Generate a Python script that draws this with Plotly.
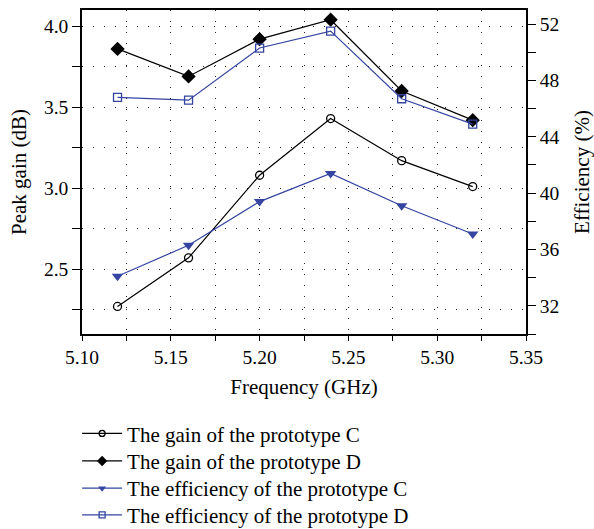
import plotly.graph_objects as go

# Measured data
freq_ghz = [5.12, 5.16, 5.20, 5.24, 5.28, 5.32]
gain_c_db = [2.27, 2.57, 3.08, 3.43, 3.17, 3.01]
gain_d_db = [3.86, 3.69, 3.92, 4.04, 3.60, 3.42]
eff_c_pct = [34.1, 36.3, 39.4, 41.4, 39.1, 37.1]
eff_d_pct = [46.8, 46.6, 50.3, 51.5, 46.7, 44.9]

series_names = [
    "The gain of the prototype C",
    "The gain of the prototype D",
    "The efficiency of the prototype C",
    "The efficiency of the prototype D",
]

BLACK = "#000000"
BLUE = "#3444a0"
FONT = "Liberation Serif"

# (values, colour, symbol, plot size, legend size, axis)
series = [
    (gain_c_db, BLACK, "circle-open", 8, 6, "y"),
    (gain_d_db, BLACK, "diamond", 11, 8, "y"),
    (eff_c_pct, BLUE, "triangle-down", 10, 7, "y2"),
    (eff_d_pct, BLUE, "square-open", 8, 6, "y2"),
]

fig = go.Figure()

for name, (vals, color, symbol, size, _, axis) in zip(series_names, series):
    open_marker = symbol.endswith("-open")
    fig.add_trace(go.Scatter(
        x=freq_ghz, y=vals, name=name, mode="lines+markers",
        line=dict(color=color, width=1.2),
        marker=dict(symbol=symbol, size=size, color=color,
                    line=dict(width=1.3 if open_marker else 0, color=color)),
        yaxis=axis, showlegend=False,
    ))

# Legend entries, one legend per row so the row pitch can be set exactly
legend_names = ["legend", "legend2", "legend3", "legend4"]
for i, (name, (vals, color, symbol, _, lsize, axis)) in enumerate(zip(series_names, series)):
    open_marker = symbol.endswith("-open")
    fig.add_trace(go.Scatter(
        x=[None], y=[None], name=name, mode="lines+markers",
        line=dict(color=color, width=1.2),
        marker=dict(symbol=symbol, size=lsize, color=color,
                    line=dict(width=1.3 if open_marker else 0, color=color)),
        yaxis=axis, showlegend=True, legend=legend_names[i],
    ))

DOTS = "1px,10px"
GRIDC = "#222222"
H = 529
row_centers = [433.8, 461.3, 488.5, 515.3]

legend_common = dict(
    x=-0.011, xanchor="left", yanchor="middle", yref="container",
    font=dict(family=FONT, size=21, color="black"),
    itemwidth=40, bgcolor="rgba(0,0,0,0)", borderwidth=0,
)
legend_layout = {}
for lname, yc in zip(legend_names, row_centers):
    legend_layout[lname] = dict(legend_common, y=1 - yc / H)

fig.update_layout(
    width=594, height=H,
    margin=dict(l=82, r=68, t=10, b=195),
    paper_bgcolor="white", plot_bgcolor="white",
    font=dict(family=FONT, size=19, color="black"),
    showlegend=True,
    **legend_layout,
    xaxis=dict(
        range=[5.10, 5.35], dtick=0.05, tick0=5.0, tickformat=".2f",
        ticks="outside", ticklen=5, tickwidth=1.2, tickcolor="black",
        showline=True, linecolor="black", linewidth=1.5, mirror=True,
        showgrid=True, gridcolor=GRIDC, gridwidth=1, griddash=DOTS,
        zeroline=False, automargin=False,
        minor=dict(dtick=0.025, tick0=5.0, ticks="outside", ticklen=5, tickwidth=1.2,
                   tickcolor="black", showgrid=True, gridcolor=GRIDC, gridwidth=1, griddash=DOTS),
        title=dict(text="Frequency (GHz)", font=dict(size=21), standoff=12),
        tickfont=dict(size=19.5),
    ),
    yaxis=dict(
        range=[2.1, 4.1], dtick=0.5, tick0=0, tickformat=".1f",
        ticks="outside", ticklen=8, tickwidth=1.2, tickcolor="black",
        showline=True, linecolor="black", linewidth=1.5,
        showgrid=True, gridcolor=GRIDC, gridwidth=1, griddash=DOTS,
        zeroline=False, automargin=False,
        minor=dict(dtick=0.25, tick0=0, ticks="outside", ticklen=8, tickwidth=1.2,
                   tickcolor="black", showgrid=True, gridcolor=GRIDC, gridwidth=1, griddash=DOTS),
        title=dict(text="Peak gain (dB)", font=dict(size=21), standoff=12),
        tickfont=dict(size=19.5),
    ),
    yaxis2=dict(
        range=[30, 53], dtick=4, tick0=0, overlaying="y", side="right",
        ticks="outside", ticklen=8, tickwidth=1.2, tickcolor="black",
        showline=True, linecolor="black", linewidth=1.5,
        showgrid=False, zeroline=False, automargin=False,
        minor=dict(dtick=2, tick0=0, ticks="outside", ticklen=8, tickwidth=1.2, tickcolor="black"),
        title=dict(text="Efficiency (%)", font=dict(size=21), standoff=16),
        tickfont=dict(size=19.5),
    ),
)

fig.write_html("out.html")
